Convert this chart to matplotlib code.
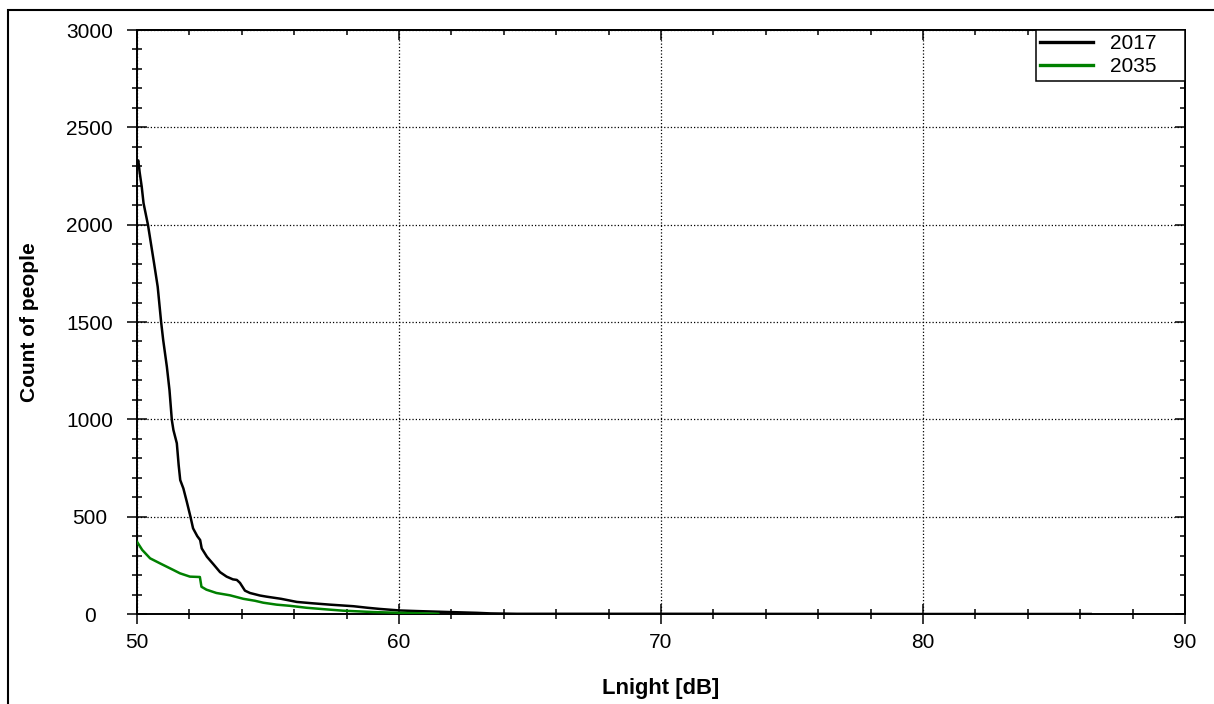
import numpy as np
import matplotlib
matplotlib.use("Agg")
from matplotlib import pyplot as plt
from matplotlib.ticker import MultipleLocator
from matplotlib.patches import Rectangle

plt.rcParams['font.family'] = ['Liberation Sans', 'DejaVu Sans']

# 2017 curve
lnight_2017 = [50.0, 50.05, 50.1, 50.18, 50.25, 50.42, 50.65, 50.79, 50.92, 51.0,
               51.14, 51.24, 51.33, 51.39, 51.52, 51.59, 51.65, 51.77, 51.9, 52.04,
               52.14, 52.3, 52.41, 52.47, 52.67, 52.92, 53.17, 53.42, 53.66, 53.81,
               53.93, 54.12, 54.31, 54.69, 54.95, 55.5, 56.1, 56.7, 57.37, 58.26,
               58.8, 59.27, 60.04, 60.7, 61.44, 62.2, 62.97, 63.5, 64.5, 70.0,
               80.0, 86.4]
count_2017 = [2320, 2330, 2270, 2195, 2110, 1998, 1803, 1681, 1501, 1407,
              1270, 1150, 996, 945, 877, 765, 688, 645, 577, 500,
              440, 400, 380, 337, 294, 255, 215, 192, 178, 175,
              160, 120, 108, 95, 89, 78, 62, 55, 48, 40,
              32, 26, 18, 15, 12, 9, 6, 3, 1, 1,
              0, 0]

# 2035 curve
lnight_2035 = [50.0, 50.2, 50.5, 50.88, 51.39, 51.64, 52.02, 52.4, 52.46, 52.65,
               53.03, 53.55, 54.06, 54.5, 54.82, 55.33, 55.84, 56.47, 57.2, 57.87,
               59.02, 60.04, 61.0, 61.5]
count_2035 = [371, 329, 286, 260, 226, 209, 192, 190, 140, 125,
              108, 96, 78, 68, 58, 48, 42, 32, 24, 17,
              10, 6, 3, 1]

fs = 15

fig = plt.figure(figsize=(12.14, 7.04), dpi=100)
ax = fig.add_axes([137 / 1214, 1 - 614 / 704, 1048 / 1214, 584 / 704])

# outer frame (only left and top edges visible in the picture)
fig.patches.append(Rectangle((8 / 1214, -0.1), 1.2, 1 - 10 / 704 + 0.1,
                             transform=fig.transFigure, fill=False,
                             edgecolor='black', linewidth=1.5))

ax.plot(lnight_2017, count_2017, color='black', lw=1.8, label='2017', zorder=3)
ax.plot(lnight_2035, count_2035, color='#008000', lw=1.8, label='2035', zorder=3)

ax.set_xlim(50, 90)
ax.set_ylim(0, 3000)
ax.xaxis.set_major_locator(MultipleLocator(10))
ax.xaxis.set_minor_locator(MultipleLocator(2))
ax.yaxis.set_major_locator(MultipleLocator(500))
ax.yaxis.set_minor_locator(MultipleLocator(100))

ax.grid(which='major', color='black', linestyle=':', linewidth=0.9)
ax.set_axisbelow(True)

ax.tick_params(which='both', direction='inout', width=1.1, labelsize=fs, colors='black')
ax.tick_params(which='major', length=14)
ax.tick_params(which='minor', length=7)
ax.tick_params(axis='x', which='major', pad=7)
ax.tick_params(axis='y', which='major', pad=27)
for lab in ax.get_yticklabels():
    lab.set_horizontalalignment('center')
for s in ax.spines.values():
    s.set_linewidth(1.4)

# inward-only ticks on top and right
top = ax.secondary_xaxis('top')
right = ax.secondary_yaxis('right')
top.xaxis.set_major_locator(MultipleLocator(10))
top.xaxis.set_minor_locator(MultipleLocator(2))
right.yaxis.set_major_locator(MultipleLocator(500))
right.yaxis.set_minor_locator(MultipleLocator(100))
for sec in (top, right):
    sec.tick_params(which='both', direction='in', width=1.1, labelsize=0)
    sec.tick_params(which='major', length=7)
    sec.tick_params(which='minor', length=3.6)
    sec.set_xticklabels([]) if sec is top else sec.set_yticklabels([])
    for s in sec.spines.values():
        s.set_linewidth(1.4)

ax.set_xlabel('Lnight [dB]', fontsize=15.8, fontweight='bold')
ax.set_ylabel('Count of people', fontsize=fs, fontweight='bold')
ax.xaxis.set_label_coords(0.5, -0.1096)
ax.yaxis.set_label_coords(-0.0935, 0.5)

leg = ax.legend(loc='upper left', bbox_to_anchor=(0.8575, 0.0, 0.1425, 1.0),
                mode='expand', borderaxespad=0, fancybox=False,
                edgecolor='black', framealpha=1, fontsize=fs,
                handlelength=2.55, handletextpad=0.8, labelspacing=0.2,
                borderpad=0.2)
leg.get_frame().set_linewidth(1.1)
leg.set_zorder(5)
for line in leg.get_lines():
    line.set_linewidth(2.4)

fig.savefig('out.png', dpi=100)
